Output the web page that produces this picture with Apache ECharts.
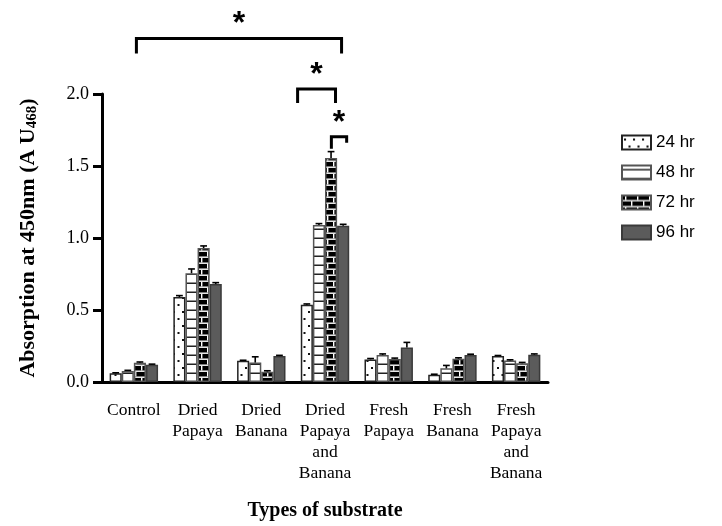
<!DOCTYPE html>
<html>
<head>
<meta charset="utf-8">
<script src="https://cdn.jsdelivr.net/npm/echarts@6/dist/echarts.min.js"></script>
<style>html,body{margin:0;padding:0;background:#fff}#c{width:722px;height:526px}</style>
</head>
<body>
<div id="c"></div>
<script>
const categories = ['Control', 'Dried\nPapaya', 'Dried\nBanana', 'Dried\nPapaya\nand\nBanana', 'Fresh\nPapaya', 'Fresh\nBanana', 'Fresh\nPapaya\nand\nBanana'];
const seriesNames = ['24 hr', '48 hr', '72 hr', '96 hr'];
const v24 = [0.060, 0.590, 0.147, 0.536, 0.157, 0.050, 0.180];
const v48 = [0.076, 0.755, 0.135, 1.090, 0.187, 0.095, 0.150];
const v72 = [0.133, 0.930, 0.072, 1.555, 0.160, 0.162, 0.130];
const v96 = [0.120, 0.680, 0.180, 1.085, 0.240, 0.187, 0.190];
const e24 = [0.004, 0.010, 0.004, 0.006, 0.006, 0.004, 0.004];
const e48 = [0.005, 0.030, 0.040, 0.010, 0.008, 0.020, 0.004];
const e72 = [0.006, 0.015, 0.006, 0.045, 0.006, 0.006, 0.006];
const e96 = [0.004, 0.010, 0.005, 0.010, 0.035, 0.006, 0.005];
const yTicks = [0, 0.5, 1.0, 1.5, 2.0];
// significance brackets: category-unit x positions, value-unit y level
const sigFrom = [0.04, 2.57, 3.10];
const sigTo = [3.26, 3.165, 3.34];
const sigLevel = [2.385, 2.034, 1.703];
const sigLabel = ['*', '*', '*'];

const values = [v24, v48, v72, v96];
const errors = [e24, e48, e72, e96];

function tile(w, h, draw) {
  const c = document.createElement('canvas');
  c.width = w; c.height = h;
  draw(c.getContext('2d'));
  return c;
}
const patDots = tile(9, 14, g => {
  g.fillStyle = '#fff'; g.fillRect(0, 0, 9, 14);
  g.fillStyle = '#111';
  g.fillRect(2, 3, 2, 2);
  g.fillRect(6.5, 10, 2, 2);
});
const patLines = tile(10, 9, g => {
  g.fillStyle = '#fff'; g.fillRect(0, 0, 10, 9);
  g.fillStyle = '#222'; g.fillRect(0, 3.5, 10, 1.5);
});
const patBricks = tile(12, 12, g => {
  g.fillStyle = '#000'; g.fillRect(0, 0, 12, 12);
  g.fillStyle = '#fff';
  g.fillRect(0, 4.5, 12, 1.4);
  g.fillRect(0, 10.5, 12, 1.4);
  g.fillRect(3, 0, 1.4, 4.5);
  g.fillRect(9, 6, 1.4, 4.5);
});
const fills = [
  {image: patDots, repeat: 'repeat'},
  {image: patLines, repeat: 'repeat'},
  {image: patBricks, repeat: 'repeat'},
  '#5b5b5b'
];
const borders = ['#222', '#555', '#555', '#3a3a3a'];

const GAP = 0.24;
const chart = echarts.init(document.getElementById('c'), null, {renderer: 'canvas'});

const series = [];
seriesNames.forEach((name, k) => {
  series.push({
    name: name, type: 'bar', data: values[k],
    barGap: '0%', barCategoryGap: (GAP * 100) + '%',
    itemStyle: {color: fills[k], borderColor: borders[k], borderWidth: 1.5},
    emphasis: {disabled: true}, animation: false
  });
});
seriesNames.forEach((name, k) => {
  series.push({
    name: 'err' + k, type: 'custom', z: 5, animation: false, silent: true,
    data: values[k].map((v, i) => [i, v, errors[k][i]]),
    renderItem: function (params, api) {
      const i = api.value(0), v = api.value(1), e = api.value(2);
      const band = api.size([1, 0])[0];
      const bw = band * (1 - GAP) / 4;
      const cx = api.coord([i, 0])[0] - band * (1 - GAP) / 2 + bw * (k + 0.5);
      const yb = api.coord([i, v])[1];
      const yt = api.coord([i, v + e])[1];
      const st = {stroke: '#000', lineWidth: 1.6};
      return {type: 'group', children: [
        {type: 'line', shape: {x1: cx, y1: yb, x2: cx, y2: yt}, style: st},
        {type: 'line', shape: {x1: cx - bw * 0.28, y1: yt, x2: cx + bw * 0.28, y2: yt}, style: st}
      ]};
    }
  });
});

const serif = '"Liberation Serif", "Times New Roman", serif';
chart.setOption({
  animation: false,
  grid: {left: 102, right: 174, top: 94, bottom: 136, containLabel: false},
  legend: {
    data: seriesNames, orient: 'vertical', left: 616, top: 129, icon: 'rect',
    itemWidth: 29, itemHeight: 14, itemGap: 13,
    textStyle: {fontFamily: '"Liberation Sans", Arial, sans-serif', fontSize: 17, color: '#000'},
    selectedMode: false
  },
  xAxis: {
    type: 'category', data: categories,
    axisLine: {lineStyle: {color: '#000', width: 3}},
    axisTick: {alignWithLabel: true, length: 11, lineStyle: {color: '#000', width: 3}},
    axisLabel: {fontFamily: serif, fontSize: 17.5, color: '#000', lineHeight: 21, margin: 18, interval: 0},
    name: 'Types of substrate', nameLocation: 'middle', nameGap: 119,
    nameTextStyle: {fontFamily: serif, fontSize: 20, fontWeight: 'bold', color: '#000'}
  },
  yAxis: {
    type: 'value', min: 0, max: 2.0, interval: 0.5,
    axisLine: {show: true, lineStyle: {color: '#000', width: 3}},
    axisTick: {show: true, length: 9, lineStyle: {color: '#000', width: 3}},
    splitLine: {show: false},
    axisLabel: {fontFamily: serif, fontSize: 18, color: '#000', margin: 13,
      formatter: v => yTicks.indexOf(v) >= 0 ? v.toFixed(1) : ''},
    name: 'Absorption at 450nm (A U{sub|468})', nameLocation: 'middle', nameGap: 62, nameRotate: 90,
    nameTextStyle: {fontFamily: serif, fontSize: 22, fontWeight: 'bold', color: '#000',
      rich: {sub: {fontFamily: serif, fontSize: 15, fontWeight: 'bold', color: '#000', verticalAlign: 'bottom', padding: [9, 0, 0, 0]}}}
  },
  series: series
});

// significance brackets from axis scales
const c0 = chart.convertToPixel({xAxisIndex: 0}, 0);
const c1 = chart.convertToPixel({xAxisIndex: 0}, 1);
const band = c1 - c0;
const gx = u => c0 + u * band;
const gy = v => chart.convertToPixel({yAxisIndex: 0}, v);
const legL = [15, 14, 12];
const legR = [15, 14, 6];
const graphics = [];
sigFrom.forEach((f, j) => {
  const x1 = gx(f), x2 = gx(sigTo[j]), y = gy(sigLevel[j]);
  graphics.push({
    type: 'polyline', silent: true,
    shape: {points: [[x1, y + legL[j]], [x1, y], [x2, y], [x2, y + legR[j]]]},
    style: {stroke: '#000', lineWidth: 3, fill: null}
  });
  graphics.push({
    type: 'text', silent: true,
    style: {text: sigLabel[j], x: (x1 + x2) / 2, y: y - 14, align: 'center', verticalAlign: 'middle',
      font: 'bold 32px "Liberation Sans", Arial, sans-serif', fill: '#000'}
  });
});
chart.setOption({graphic: graphics});
</script>
</body>
</html>
